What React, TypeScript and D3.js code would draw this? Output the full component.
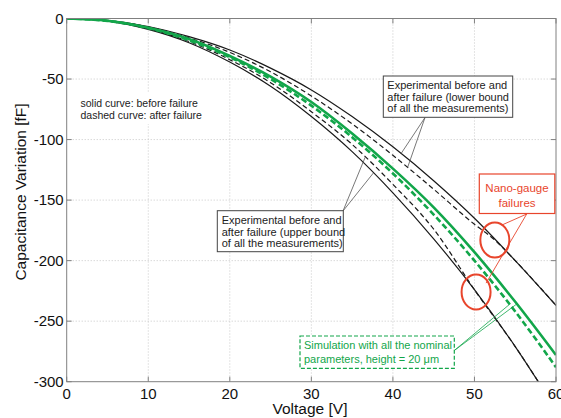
import React from "react";
import * as d3 from "d3";

const W = 561;
const H = 418;

// Voltage grid [V]
const vGrid = [0, 5, 10, 15, 20, 25, 30, 35, 40, 45, 50, 55, 60];

// Experimental, lower bound of measurements (least negative)
const lbBefore = [0, -1.6, -6.6, -15, -26, -41, -59, -81, -106, -134, -165, -200, -237];
const vLbAfter = [0, 5, 10, 15, 20, 25, 30, 35, 40, 45, 50, 52.5, 55, 60];
const lbAfter = [0, -1.7, -7, -16, -28, -44, -64, -87, -113, -141, -170, -183, -200, -237];

// Experimental, upper bound of measurements (most negative)
const ubBefore = [0, -2.2, -9, -20, -36, -56, -81, -110, -144, -182, -224, -271, -323];
const vUbAfter = [0, 5, 10, 15, 20, 25, 30, 35, 40, 45, 50.2, 55, 60];
const ubAfter = [0, -2, -8.5, -19, -34, -53, -77, -104, -137, -174, -226, -271, -323];

// Simulation with nominal parameters
const simBefore = [0, -1.9, -7.7, -17, -31, -48, -69, -95, -124, -156, -193, -234, -278];
const simAfter = [0, -2, -8, -18, -32, -50, -72, -98, -128, -162, -200, -242, -288];

const xTicks = [0, 10, 20, 30, 40, 50, 60];
const yTicks = [0, -50, -100, -150, -200, -250, -300];

// failure locations [V, fF]
const failures = [
  [52.5, -183],
  [50.2, -226],
];

const FONT = "'Liberation Sans', Arial, Helvetica, sans-serif";
const RED = "#e8452c";
const GREEN = "#12a64a";

function interp(vs: number[], ys: number[], v: number) {
  return d3.scaleLinear().domain(vs).range(ys)(v);
}

export default function App() {
  const x = d3.scaleLinear().domain([0, 60]).range([66.7, 556]);
  const y = d3.scaleLinear().domain([-300, 0]).range([381.7, 18.5]);
  const [x0, x1] = x.range();
  const [y0, y1] = [y(0), y(-300)];

  const line = (vs: number[], ys: number[]) =>
    d3
      .line<number>()
      .x((_, i) => x(vs[i]))
      .y((d) => y(d))
      .curve(d3.curveMonotoneX)(ys) as string;

  const pt = (vs: number[], ys: number[], v: number): [number, number] => [x(v), y(interp(vs, ys, v))];

  const lbA = pt(vGrid, lbBefore, 41);
  const lbB = pt(vLbAfter, lbAfter, 41.8);
  const ubA = pt(vUbAfter, ubAfter, 36.6);
  const ubB = pt(vGrid, ubBefore, 37.6);
  const simA = pt(vGrid, simAfter, 54.3);
  const simB = pt(vGrid, simBefore, 55.2);

  const grid = "#c8c8c8";
  const frame = "#808080";

  return (
    <svg width={W} height={H} style={{ position: "absolute", left: 0, top: 0, background: "#fff" }} fontFamily={FONT}>
      <defs>
        <clipPath id="plot">
          <rect x={x0} y={y0} width={x1 - x0} height={y1 - y0} />
        </clipPath>
      </defs>
      {/* grid */}
      {xTicks.slice(1, -1).map((t) => (
        <line key={"gx" + t} x1={x(t)} x2={x(t)} y1={y0} y2={y1} stroke={grid} strokeDasharray="1,2" />
      ))}
      {yTicks.slice(1, -1).map((t) => (
        <line key={"gy" + t} y1={y(t)} y2={y(t)} x1={x0} x2={x1} stroke={grid} strokeDasharray="1,2" />
      ))}

      {/* note box */}
      <rect x={76} y={92} width={135} height={32} fill="#fff" />
      <text x={80.5} y={107} fontSize={10.5} fill="#222">solid curve: before failure</text>
      <text x={80.5} y={119} fontSize={10.5} fill="#222">dashed curve: after failure</text>

      {/* curves */}
      <g clipPath="url(#plot)" fill="none">
        <path d={line(vGrid, lbBefore)} stroke="#1a1a1a" strokeWidth={1.2} />
        <path d={line(vLbAfter, lbAfter)} stroke="#1a1a1a" strokeWidth={1.2} strokeDasharray="5,3" />
        <path d={line(vGrid, ubBefore)} stroke="#1a1a1a" strokeWidth={1.2} />
        <path d={line(vUbAfter, ubAfter)} stroke="#1a1a1a" strokeWidth={1.2} strokeDasharray="5,3" />
        <path d={line(vGrid, simBefore)} stroke={GREEN} strokeWidth={2.6} />
        <path d={line(vGrid, simAfter)} stroke={GREEN} strokeWidth={2.6} strokeDasharray="6,3" />
      </g>

      {/* frame + ticks */}
      <rect x={x0} y={y0} width={x1 - x0} height={y1 - y0} fill="none" stroke={frame} strokeWidth={1} />
      {xTicks.map((t) => (
        <g key={"tx" + t}>
          <line x1={x(t)} x2={x(t)} y1={y1} y2={y1 - 5} stroke={frame} />
          <line x1={x(t)} x2={x(t)} y1={y0} y2={y0 + 5} stroke={frame} />
          <text x={x(t)} y={y1 + 17} fontSize={15} textAnchor="middle" fill="#111">{t}</text>
        </g>
      ))}
      {yTicks.map((t) => (
        <g key={"ty" + t}>
          <line x1={x0} x2={x0 + 5} y1={y(t)} y2={y(t)} stroke={frame} />
          <line x1={x1} x2={x1 - 5} y1={y(t)} y2={y(t)} stroke={frame} />
          <text x={x0 - 3} y={y(t) + 5} fontSize={15} textAnchor="end" fill="#111">{t}</text>
        </g>
      ))}
      <text x={310} y={414} fontSize={15.5} textAnchor="middle" fill="#111">Voltage [V]</text>
      <text transform={`translate(26,192) rotate(-90)`} fontSize={15.5} textAnchor="middle" fill="#111">
        Capacitance Variation [fF]
      </text>

      {/* lower bound annotation */}
      <line x1={425} y1={117.5} x2={lbA[0]} y2={lbA[1]} stroke="#555" strokeWidth={0.8} />
      <line x1={425} y1={117.5} x2={lbB[0]} y2={lbB[1]} stroke="#555" strokeWidth={0.8} />
      <rect x={383.3} y={76} width={129.4} height={41.3} fill="#fff" stroke="#444" strokeWidth={1} />
      <text fontSize={11} fill="#222">
        <tspan x={387.3} y={89}>Experimental before and</tspan>
        <tspan x={387.3} y={100.7}>after failure (lower bound</tspan>
        <tspan x={387.3} y={112.3}>of all the measurements)</tspan>
      </text>

      {/* upper bound annotation */}
      <line x1={343} y1={211} x2={ubA[0]} y2={ubA[1]} stroke="#555" strokeWidth={0.8} />
      <line x1={343} y1={211} x2={ubB[0]} y2={ubB[1]} stroke="#555" strokeWidth={0.8} />
      <rect x={217.3} y={210.7} width={126} height={41} fill="#fff" stroke="#444" strokeWidth={1} />
      <text fontSize={11} fill="#222">
        <tspan x={221.7} y={224}>Experimental before and</tspan>
        <tspan x={221.7} y={235.7}>after failure (upper bound</tspan>
        <tspan x={221.7} y={247.3}>of all the measurements)</tspan>
      </text>

      {/* failures */}
      {failures.map(([v, c], i) => (
        <ellipse key={"f" + i} cx={x(v)} cy={y(c)} rx={14.5} ry={17.5} fill="none" stroke={RED} strokeWidth={2} />
      ))}
      <line x1={526.7} y1={214} x2={x(failures[0][0]) + 7} y2={y(failures[0][1]) - 15} stroke={RED} strokeWidth={0.9} />
      <line x1={526.7} y1={214} x2={x(failures[1][0]) + 10} y2={y(failures[1][1]) - 9} stroke={RED} strokeWidth={0.9} />
      <rect x={479.3} y={174} width={75.5} height={39.5} fill="#fff" stroke={RED} strokeWidth={1.2} />
      <text x={517} y={192} fontSize={11.5} textAnchor="middle" fill={RED}>Nano-gauge</text>
      <text x={517} y={207} fontSize={11.5} textAnchor="middle" fill={RED}>failures</text>

      {/* simulation annotation */}
      <line x1={454.3} y1={350.5} x2={simA[0]} y2={simA[1]} stroke={GREEN} strokeWidth={0.8} />
      <line x1={454.3} y1={350.5} x2={simB[0]} y2={simB[1]} stroke={GREEN} strokeWidth={0.8} />
      <rect x={300} y={336} width={154.3} height={32.3} fill="#fff" stroke={GREEN} strokeWidth={1.2} strokeDasharray="4,2" />
      <text fontSize={11} fill={GREEN}>
        <tspan x={304} y={348.5}>Simulation with all the nominal</tspan>
        <tspan x={304} y={362.5}>parameters, height = 20 μm</tspan>
      </text>
    </svg>
  );
}
